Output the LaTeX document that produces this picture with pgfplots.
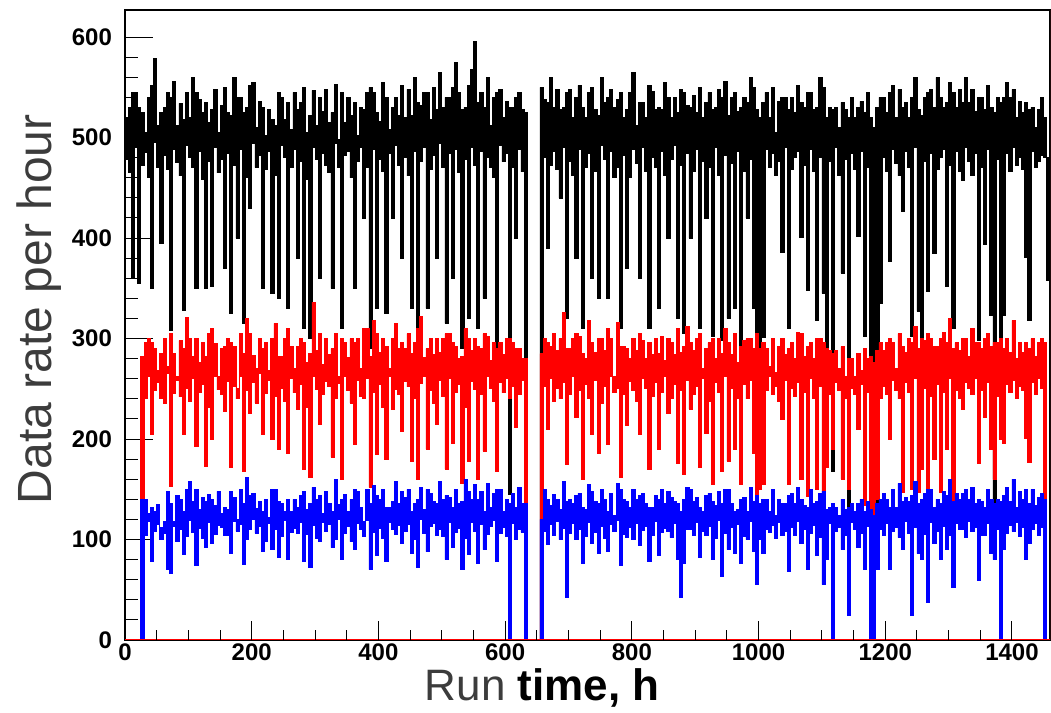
\documentclass[border=0pt]{standalone}
\usepackage{fontspec}
\setmainfont{Liberation Sans}
\usepackage{pgfplots}
\usepackage{pgfplotstable}
\usepgfplotslibrary{fillbetween}
\pgfplotsset{compat=1.18}

\definecolor{labelgray}{HTML}{3C3C3C}
\definecolor{rootred}{HTML}{FF0000}
\definecolor{rootblue}{HTML}{0000FF}

% 5 h windows: highest and lowest hourly rate in each window
% k = black, r = red, b = blue
\pgfplotstableread{
x khi klo rhi rlo bhi blo
0 520 478 0 0 0 0
5 530 465 0 0 0 0
10 545 360 0 0 0 0
15 545 490 0 0 0 0
20 530 355 0 0 0 0
25 525 472 282 0 140 0
30 505 485 296 240 140 104
35 540 460 300 262 126 118
40 552 350 296 205 132 78
45 579 495 290 248 128 108
50 512 470 268 256 135 115
55 525 395 285 240 112 100
60 530 482 300 236 118 106
65 545 468 272 265 148 70
70 540 308 305 153 136 66
75 556 488 285 245 118 113
80 512 475 262 258 144 98
85 534 462 298 242 140 110
90 518 328 290 205 128 85
95 545 492 321 250 150 103
100 520 480 300 238 158 119
105 560 470 282 260 138 107
110 545 350 300 193 150 74
115 538 486 276 246 130 111
120 525 458 296 254 142 101
125 535 350 282 173 138 92
130 515 476 305 232 145 117
135 528 352 310 200 140 96
140 548 490 295 262 134 105
145 505 465 262 249 148 114
150 532 478 290 244 126 112
155 550 370 292 228 132 104
160 525 484 300 257 130 104
165 522 325 296 172 148 86
170 560 472 292 252 142 118
175 540 400 250 240 120 108
180 540 488 305 262 150 115
185 525 315 285 168 136 75
190 530 460 320 248 162 100
195 552 430 305 226 144 110
200 555 494 283 256 146 120
205 510 470 270 236 131 106
210 536 482 300 265 138 113
215 530 350 290 205 128 88
220 502 468 296 245 140 98
225 528 486 268 258 122 116
230 518 345 300 200 150 90
235 512 462 315 242 150 110
240 545 340 282 190 138 82
245 540 492 282 250 136 103
250 518 480 300 238 128 119
255 535 330 310 186 140 80
260 508 470 292 260 128 107
265 545 488 270 246 140 111
270 528 380 292 230 132 106
275 535 476 300 254 144 117
280 550 310 296 170 148 78
285 505 458 276 232 130 105
290 522 300 285 162 136 72
295 547 490 336 262 152 114
300 512 478 288 249 140 101
305 540 360 305 215 144 98
310 526 484 274 244 126 117
315 548 472 300 257 148 108
320 515 465 284 252 136 115
325 525 350 290 182 128 92
330 553 494 305 240 160 100
335 498 470 262 255 135 120
340 545 310 300 160 140 80
345 515 482 296 262 145 106
350 540 486 281 248 128 113
355 522 460 300 236 140 98
360 535 350 296 195 150 90
365 502 476 300 258 148 116
370 530 490 270 242 132 110
375 528 420 310 240 118 103
380 545 470 310 260 150 119
385 550 290 282 152 136 70
390 545 488 318 246 154 107
395 525 330 305 185 144 84
400 516 478 286 254 140 111
405 555 466 300 232 150 101
410 540 325 292 180 132 78
415 508 484 270 262 132 117
420 530 420 300 230 138 110
425 540 492 315 249 158 105
430 522 472 290 244 136 114
435 552 380 296 208 148 96
440 520 480 290 257 142 108
445 548 462 305 252 150 115
450 522 330 285 178 128 86
455 560 486 296 240 136 100
460 535 290 310 160 140 72
465 532 476 322 255 152 120
470 545 490 281 262 130 106
475 545 330 290 190 150 88
480 518 468 300 248 146 113
485 550 482 284 236 138 116
490 528 380 300 215 136 104
495 565 494 286 258 158 110
500 530 470 300 242 140 103
505 540 315 305 170 144 80
510 540 484 305 260 142 117
515 550 360 296 196 132 92
520 575 488 292 246 150 107
525 545 465 280 254 136 111
530 528 290 282 156 138 70
535 530 478 310 232 160 101
540 552 320 300 178 148 85
545 568 490 288 257 140 117
550 596 472 300 249 155 108
555 535 310 292 160 140 76
560 545 486 290 244 148 115
565 530 340 305 188 128 90
570 560 480 302 262 156 105
575 512 470 278 250 132 113
580 540 460 296 238 146 119
585 545 290 290 168 150 78
590 548 492 296 256 150 106
595 520 476 284 246 128 112
600 536 484 300 260 140 103
605 530 145 300 240 136 0
610 530 470 296 252 146 116
615 540 400 290 212 132 100
620 545 488 290 244 152 110
625 528 466 280 258 136 107
630 525 0 280 0 136 0
635 0 0 0 0 0 0
640 0 0 0 0 0 0
645 0 0 0 0 0 0
650 0 0 0 0 0 0
655 550 0 285 0 120 0
660 538 480 300 252 150 108
665 535 390 296 210 140 95
670 560 472 292 260 134 115
675 530 486 305 238 145 104
680 548 468 288 250 140 118
685 528 440 300 240 130 100
690 530 490 326 256 158 111
695 545 320 290 175 138 42
700 548 476 290 244 140 106
705 520 462 300 262 136 116
710 540 380 305 222 144 100
715 552 488 302 248 146 110
720 530 310 285 160 132 76
725 520 470 280 254 130 103
730 545 484 318 240 155 117
735 550 360 296 205 148 96
740 528 466 286 258 138 107
745 522 340 300 186 136 86
750 560 492 300 236 150 113
755 535 478 288 252 140 101
760 540 340 310 195 128 88
765 548 486 300 262 146 115
770 530 460 262 246 124 108
775 538 470 316 250 156 119
780 545 310 292 162 150 74
785 520 482 292 244 140 105
790 528 370 290 214 138 102
795 545 460 280 257 132 112
800 565 488 300 248 150 100
805 512 474 288 238 140 116
810 535 360 305 205 144 94
815 535 490 298 260 146 109
820 520 466 280 250 136 113
825 552 310 296 170 132 78
830 546 480 284 242 132 104
835 528 470 300 256 144 118
840 530 330 285 190 140 84
845 528 486 302 246 150 107
850 555 462 278 262 136 111
855 540 400 300 226 148 108
860 520 478 296 240 142 102
865 540 492 284 254 138 116
870 525 320 310 176 136 80
875 548 472 286 248 128 42
880 545 305 292 165 140 76
885 532 484 312 258 152 110
890 530 400 296 230 150 110
895 542 466 288 244 138 104
900 525 488 300 252 142 117
905 550 310 305 172 132 82
910 520 476 270 260 128 108
915 535 420 290 206 144 104
920 545 470 296 238 146 113
925 528 302 300 155 138 80
930 530 490 280 256 134 101
935 548 462 300 246 148 119
940 540 298 285 168 136 63
945 556 482 310 262 150 106
950 522 320 296 178 150 90
955 540 474 284 250 136 112
960 545 330 305 190 128 86
965 526 486 276 240 130 115
970 530 268 292 155 140 76
975 540 466 298 254 142 103
980 535 420 300 240 128 100
985 560 478 300 258 152 118
990 550 330 290 186 138 88
995 528 214 305 143 144 55
1000 520 176 290 150 136 100
1005 535 301 296 155 140 86
1010 545 488 290 248 140 110
1015 520 470 272 262 128 107
1020 550 484 300 244 150 114
1025 505 462 266 252 124 101
1030 536 476 292 238 140 117
1035 540 386 300 220 136 104
1040 540 490 284 258 136 108
1045 528 310 290 155 144 68
1050 540 468 296 250 146 112
1055 525 480 280 242 136 104
1060 552 486 306 256 152 118
1065 535 401 305 160 140 96
1070 530 472 282 246 134 110
1075 545 348 292 143 132 70
1080 545 488 296 260 150 106
1085 528 466 280 240 136 114
1090 530 318 300 150 138 84
1095 560 480 300 252 146 102
1100 550 345 296 147 148 55
1105 520 222 290 172 130 80
1110 530 476 288 244 132 116
1115 528 168 285 190 136 0
1120 530 490 288 256 132 108
1125 510 462 270 248 124 112
1130 535 365 292 160 140 90
1135 528 478 262 240 130 104
1140 520 100 280 150 132 25
1145 540 484 280 250 136 117
1150 520 468 262 244 128 110
1155 530 402 285 210 136 92
1160 536 486 268 254 140 106
1165 525 302 290 134 128 70
1170 545 470 280 246 138 113
1175 520 34 282 110 130 0
1180 510 34 276 113 124 0
1185 530 108 288 140 136 70
1190 540 335 296 240 140 110
1195 540 480 288 252 146 104
1200 525 466 296 244 140 116
1205 545 377 300 200 132 70
1210 552 488 296 258 150 108
1215 520 474 270 248 132 112
1220 548 462 305 240 156 102
1225 530 427 292 147 138 90
1230 535 486 286 256 142 118
1235 520 470 300 246 138 106
1240 540 302 296 150 144 25
1245 560 490 312 260 158 112
1250 528 327 290 147 136 86
1255 522 289 300 170 140 80
1260 540 476 298 250 146 105
1265 545 347 305 147 150 37
1270 548 484 300 242 150 117
1275 530 385 292 180 132 96
1280 560 468 292 254 140 108
1285 540 480 300 147 136 80
1290 530 488 306 246 148 113
1295 535 352 296 190 144 90
1300 555 472 320 260 160 104
1305 545 310 290 130 138 52
1310 530 486 296 248 146 116
1315 548 466 288 240 140 110
1320 535 457 300 230 146 110
1325 560 490 300 256 150 102
1330 535 476 282 250 140 118
1335 548 462 310 244 152 108
1340 526 484 296 260 136 112
1345 540 298 296 176 140 59
1350 540 470 290 248 138 104
1355 528 394 300 222 132 104
1360 552 488 305 256 150 116
1365 530 323 292 190 140 86
1370 525 130 296 160 136 80
1375 540 478 296 242 140 110
1380 535 300 300 200 138 0
1385 540 323 290 196 144 90
1390 555 484 300 254 152 106
1395 540 466 286 246 138 114
1400 548 490 318 258 160 108
1405 520 472 280 240 132 117
1410 536 480 296 252 148 103
1415 525 468 286 248 140 112
1420 535 381 296 201 150 80
1425 528 318 290 177 136 96
1430 530 486 300 256 150 110
1435 510 470 282 244 134 116
1440 528 476 296 260 142 104
1445 540 482 300 250 146 112
1450 520 480 296 0 140 0
1455 480 358 0 0 0 0
1460 480 358 0 0 0 0
}\rates

\begin{document}
\begin{tikzpicture}
\pgfplotsset{
  rootframe/.style={
    scale only axis, width=462.5pt, height=315pt,
    xmin=0, xmax=1460, ymin=0, ymax=627,
    tick pos=left, tick align=inside,
    every tick/.style={black, line width=0.5pt},
  },
  edge/.style={draw=none, const plot mark left, forget plot},
}
\begin{axis}[rootframe,
  axis line style={black, line width=0.6pt},
  xtick distance=200, ytick distance=100,
  minor y tick num=4,
  major tick length=14pt, minor tick length=6.5pt,
  xtick style={draw=none},
  /pgf/number format/assume math mode=true,
  /pgf/number format/1000 sep={},
  ticklabel style={font=\bfseries\fontsize{12}{14}\selectfont},
  yticklabel style={xshift=-3pt},
  xticklabel style={yshift=1.5pt},
  xlabel={{\color{labelgray}Run} \textbf{time, h}},
  xlabel style={font=\fontsize{22}{24}\selectfont, at={(axis description cs:0.451,-0.076)}, anchor=center},
  ylabel={Data rate per hour},
  ylabel style={font=\fontsize{24}{26}\selectfont, text=labelgray, at={(axis description cs:-0.093,0.525)}, anchor=center},
]
\addplot[rootred, line width=1pt] coordinates {(0,0) (1460,0)};
\addplot[edge, name path=khi] table[x=x, y=khi] {\rates};
\addplot[edge, name path=klo] table[x=x, y=klo] {\rates};
\addplot[edge, name path=rhi] table[x=x, y=rhi] {\rates};
\addplot[edge, name path=rlo] table[x=x, y=rlo] {\rates};
\addplot[edge, name path=bhi] table[x=x, y=bhi] {\rates};
\addplot[edge, name path=blo] table[x=x, y=blo] {\rates};
\addplot[fill=black, draw=black, line width=0.35pt] fill between[of=khi and klo];
\addplot[fill=rootred, draw=rootred, line width=0.35pt] fill between[of=rhi and rlo];
\addplot[fill=rootblue, draw=rootblue, line width=0.35pt] fill between[of=bhi and blo];
\draw[rootred!70, line width=0.5pt] (rel axis cs:1,0) -- (rel axis cs:1,1);
\end{axis}
% x ticks are shorter than y ticks, as in ROOT
\begin{axis}[rootframe,
  axis line style={draw=none},
  xtick distance=200, minor x tick num=3,
  ytick=\empty, xticklabels={},
  major tick length=9.5pt, minor tick length=4.75pt,
]
\end{axis}
\node[anchor=base east, font=\bfseries\fontsize{24}{26}\selectfont] at (-58pt,-32.5pt) {s};
\pgfresetboundingbox
\useasboundingbox (-62.5pt,-36.5pt) rectangle (463pt,320pt);
\end{tikzpicture}
\end{document}
